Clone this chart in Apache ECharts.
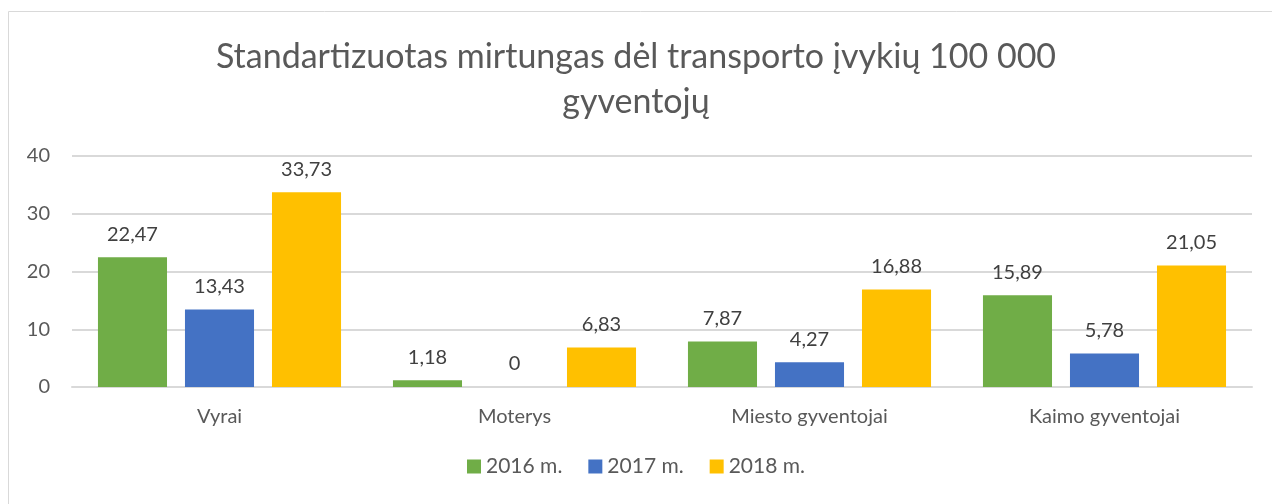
<!DOCTYPE html>
<html><head><meta charset="utf-8">
<script src="https://cdn.jsdelivr.net/npm/echarts@6/dist/echarts.min.js"></script>
<style>html,body{margin:0;padding:0;background:#fff}#c{width:1272px;height:504px}</style>
</head><body><div id="c"></div>
<script>
const categories = ['Vyrai', 'Moterys', 'Miesto gyventojai', 'Kaimo gyventojai'];
const seriesNames = ['2016 m.', '2017 m.', '2018 m.'];
const values2016 = [22.47, 1.18, 7.87, 15.89];
const values2017 = [13.43, 0, 4.27, 5.78];
const values2018 = [33.73, 6.83, 16.88, 21.05];
const colors = ['#70AD47', '#4472C4', '#FFC000'];
const yTicks = [0, 10, 20, 30, 40];

const FONT = 'Lato';
const TXT = '#595959';
const chart = echarts.init(document.getElementById('c'), null, {renderer: 'canvas'});
const mk = (name, data, color) => ({
  name, type: 'bar', data,
  itemStyle: {color},
  barGap: '26%', barCategoryGap: '17.6%',
  label: {show: true, position: 'top', distance: 13, color: '#404040', fontFamily: FONT, fontSize: 20,
    formatter: p => String(p.value).replace('.', ',')}
});
chart.setOption({
  animation: false,
  graphic: [{type: 'rect', shape: {x: 8.5, y: 11.5, width: 1270, height: 500}, style: {fill: 'none', stroke: '#d9d9d9', lineWidth: 1}}],
  title: {
    text: 'Standartizuotas mirtungas dėl transporto įvykių 100 000\ngyventojų',
    left: 'center', top: 30,
    textStyle: {fontFamily: FONT, fontSize: 34, fontWeight: 'normal', color: TXT, lineHeight: 45}
  },
  legend: {
    data: seriesNames, bottom: 22, left: 'center', itemWidth: 14, itemHeight: 14, itemGap: 26,
    icon: 'rect', textStyle: {fontFamily: FONT, fontSize: 21, color: TXT}
  },
  grid: {left: 72, right: 20, top: 156, bottom: 117},
  xAxis: {
    type: 'category', data: categories,
    axisLine: {lineStyle: {color: '#d9d9d9', width: 2}}, axisTick: {show: false},
    axisLabel: {fontFamily: FONT, fontSize: 20, color: TXT, margin: 20}
  },
  yAxis: {
    type: 'value', min: yTicks[0], max: yTicks[yTicks.length - 1], interval: 10,
    axisLine: {show: false}, axisTick: {show: false},
    splitLine: {lineStyle: {color: '#d9d9d9', width: 2}},
    axisLabel: {fontFamily: FONT, fontSize: 20, color: TXT, margin: 22}
  },
  series: [mk(seriesNames[0], values2016, colors[0]), mk(seriesNames[1], values2017, colors[1]), mk(seriesNames[2], values2018, colors[2])]
});
</script></body></html>
